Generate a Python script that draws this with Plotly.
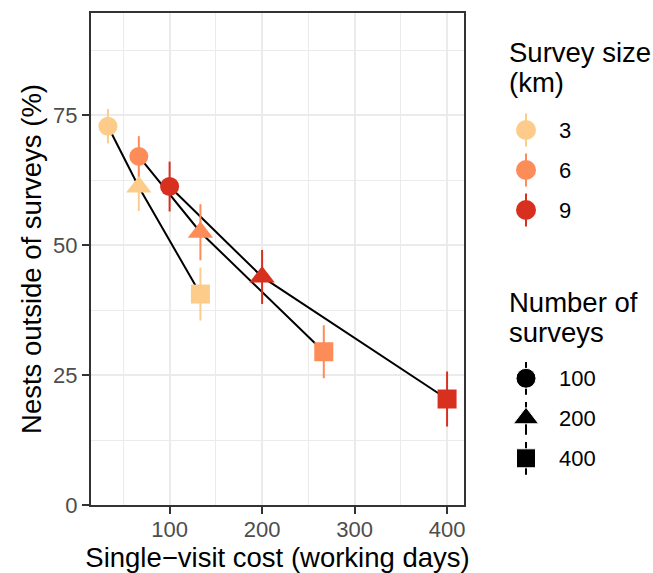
import plotly.graph_objects as go

# ---------------- data ----------------
survey_sizes = ["3", "6", "9"]            # km
survey_counts = ["100", "200", "400"]     # number of surveys
size_colors = ["#FDCC8A", "#FC8D59", "#D7301F"]
count_symbols = ["circle", "triangle-up", "square"]

cost_3km = [33.3, 66.7, 133.3]
pct_3km = [72.9, 61.2, 40.6]
err_3km = [3.3, 4.6, 5.1]

cost_6km = [66.7, 133.3, 266.7]
pct_6km = [67.1, 52.5, 29.5]
err_6km = [3.9, 5.4, 5.1]

cost_9km = [100.0, 200.0, 400.0]
pct_9km = [61.3, 43.9, 20.4]
err_9km = [4.8, 5.2, 5.3]

x_ticks = [100, 200, 300, 400]
y_ticks = [0, 25, 50, 75]

costs = [cost_3km, cost_6km, cost_9km]
pcts = [pct_3km, pct_6km, pct_9km]
errs = [err_3km, err_6km, err_9km]

# ---------------- styling ----------------
FONT = "Liberation Sans, Arial, Helvetica, sans-serif"
W, H = 653, 573
ML, MR, MT, MB = 91, 0, 13, 68
PW = W - ML - MR
PH = H - MT - MB
PANEL_RIGHT = 464
sym_size = {"circle": 19, "triangle-up": 22, "square": 19}
leg_size = {"circle": 20, "triangle-up": 22, "square": 19}


def px_x(px):
    return (px - ML) / PW


def px_y(py):
    return (H - MB - py) / PH


fig = go.Figure()

# connecting lines (one per survey size)
for c, p in zip(costs, pcts):
    fig.add_trace(go.Scatter(
        x=c, y=p, mode="lines",
        line=dict(color="black", width=2),
        showlegend=False, hoverinfo="skip",
        xaxis="x", yaxis="y",
    ))

# points with error bars
for s, col, c, p, e in zip(survey_sizes, size_colors, costs, pcts, errs):
    fig.add_trace(go.Scatter(
        x=c, y=p, mode="markers",
        marker=dict(color=col, symbol=count_symbols, opacity=1,
                    size=[sym_size[k] for k in count_symbols],
                    line=dict(width=0)),
        error_y=dict(type="data", array=e, visible=True,
                     color=col, thickness=2, width=0),
        name=s, showlegend=False,
        xaxis="x", yaxis="y",
    ))

# ---------------- legend keys (drawn in small helper axes) ----------------
key_pos = list(range(len(survey_sizes)))
for i, col in enumerate(size_colors):
    fig.add_trace(go.Scatter(
        x=[0], y=[key_pos[i]], mode="markers",
        marker=dict(color=col, symbol="circle", size=leg_size["circle"],
                    opacity=1),
        error_y=dict(type="constant", value=0.41, color=col,
                     thickness=2, width=0),
        showlegend=False, hoverinfo="skip", xaxis="x2", yaxis="y2",
    ))

key_pos2 = list(range(len(survey_counts)))
fig.add_trace(go.Scatter(
    x=[0] * len(survey_counts), y=key_pos2, mode="markers",
    marker=dict(color="black", symbol=count_symbols, opacity=1,
                size=[leg_size[k] for k in count_symbols]),
    error_y=dict(type="constant", value=0.41, color="black",
                 thickness=2, width=0),
    showlegend=False, hoverinfo="skip", xaxis="x3", yaxis="y3",
))

axis_common = dict(
    showline=True, mirror=True, linecolor="#333333", linewidth=2.2,
    ticks="outside", ticklen=7, tickwidth=2.2, tickcolor="#333333",
    tickfont=dict(family=FONT, size=22, color="#4D4D4D"),
    showgrid=True, gridcolor="#EBEBEB", gridwidth=2.2,
    zeroline=False, automargin=False,
)

main_dom_x = [0, px_x(PANEL_RIGHT)]

fig.update_layout(
    width=W, height=H, autosize=False,
    margin=dict(l=ML, r=MR, t=MT, b=MB, pad=0),
    paper_bgcolor="white", plot_bgcolor="white",
    font=dict(family=FONT, color="black"),
    xaxis=dict(
        domain=main_dom_x, range=[15, 418.3],
        tickmode="array", tickvals=x_ticks, ticktext=[str(v) for v in x_ticks],
        minor=dict(showgrid=True, gridcolor="#EBEBEB", gridwidth=1.2,
                   tickmode="array", tickvals=[50, 150, 250, 350]),
        title=dict(text="Single\u2212visit cost (working days)",
                   font=dict(family=FONT, size=27.5, color="black"),
                   standoff=5),
        ticklabelstandoff=-4,
        anchor="y",
        **axis_common,
    ),
    yaxis=dict(
        domain=[0, 1], range=[0, 94.7],
        tickmode="array", tickvals=y_ticks, ticktext=[str(v) for v in y_ticks],
        minor=dict(showgrid=True, gridcolor="#EBEBEB", gridwidth=1.2,
                   tickmode="array", tickvals=[12.5, 37.5, 62.5, 87.5]),
        title=dict(text="Nests outside of surveys (%)",
                   font=dict(family=FONT, size=27.5, color="black"),
                   standoff=3),
        anchor="x",
        **axis_common,
    ),
    xaxis2=dict(domain=[px_x(511), px_x(541)], range=[-1, 1], visible=False,
                anchor="y2", fixedrange=True),
    yaxis2=dict(domain=[px_y(230), px_y(110)], range=[2.5, -0.5],
                anchor="x2", side="right", showgrid=False, showline=False,
                zeroline=False, ticks="", tickmode="array",
                tickvals=key_pos, ticktext=survey_sizes,
                tickfont=dict(family=FONT, size=22, color="black"),
                ticklabelstandoff=17, fixedrange=True),
    xaxis3=dict(domain=[px_x(511), px_x(541)], range=[-1, 1], visible=False,
                anchor="y3", fixedrange=True),
    yaxis3=dict(domain=[px_y(478.3), px_y(358.3)], range=[2.5, -0.5],
                anchor="x3", side="right", showgrid=False, showline=False,
                zeroline=False, ticks="", tickmode="array",
                tickvals=key_pos2, ticktext=survey_counts,
                tickfont=dict(family=FONT, size=22, color="black"),
                ticklabelstandoff=17, fixedrange=True),
    showlegend=False,
)

# legend titles
title_lines = [("Survey size", 52.5), ("(km)", 82.0),
               ("Number of", 302.5), ("surveys", 332.0)]
for txt, py in title_lines:
    fig.add_annotation(
        text=txt, xref="paper", yref="paper",
        x=px_x(507), y=px_y(py), xanchor="left", yanchor="middle",
        showarrow=False, font=dict(family=FONT, size=27.5, color="black"),
    )

fig.write_html(
    "out.html",
    config={"displayModeBar": False},
    post_script="document.body.style.margin='0';document.body.style.padding='0';",
)
